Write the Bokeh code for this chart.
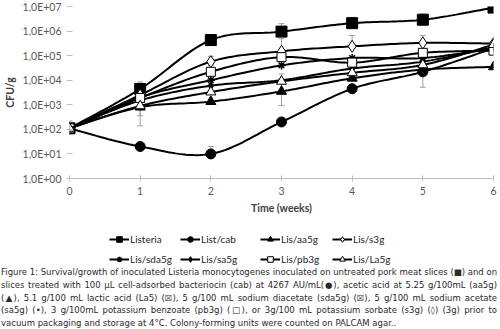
import numpy as np
from bokeh.plotting import figure
from bokeh.models import (FixedTicker, Legend, LegendItem, Whisker, ColumnDataSource, Div)
from bokeh.layouts import column
from bokeh.embed import file_html
from bokeh.resources import INLINE

# ---------------- data ----------------
weeks = [0, 1, 2, 3, 4, 5, 6]
listeria = [110, 4400, 430000, 950000, 2100000, 2900000, 9000000]
list_cab = [110, 20, 10, 200, 4500, 22000, 200000]
lis_aa5g = [110, 800, 1350, 3500, 12000, 27000, 35000]
lis_s3g = [110, 2500, 57000, 150000, 240000, 330000, 310000]
lis_sda5g = [110, 2000, 10000, 40000, 80000, 80000, 200000]
lis_sa5g = [110, 1500, 6000, 10000, 30000, 57000, 220000]
lis_pb3g = [110, 1900, 22000, 87000, 52000, 130000, 160000]
lis_la5g = [110, 900, 3300, 9000, 20000, 42000, 280000]

series_names = ["Listeria", "List/cab", "Lis/aa5g", "Lis/s3g",
                "Lis/sda5g", "Lis/sa5g", "Lis/pb3g", "Lis/La5g"]

# error bars (x, lower, upper)
err_x = [0, 1, 1, 1, 2, 2, 3, 3, 3, 4, 4, 5, 5, 5]
err_lower = [90, 4000, 140, 360, 7, 40000, 800000, 930, 120000, 2000000, 200000, 5200, 2800000, 300000]
err_upper = [220, 8500, 900, 900, 20, 94000, 2000000, 18000, 490000, 3600000, 660000, 22000, 5000000, 660000]

y_ticks = [1, 10, 100, 1000, 10000, 100000, 1000000, 10000000]
y_tick_labels = ["1,0E+00", "1,0E+01", "1,0E+02", "1,0E+03", "1,0E+04", "1,0E+05", "1,0E+06", "1,0E+07"]
x_ticks = [0, 1, 2, 3, 4, 5, 6]

caption_lines = [
    "Figure 1: Survival/growth of inoculated Listeria monocytogenes inoculated on untreated pork meat slices (\u25a0) and on",
    "slices treated with 100 \u00b5L cell-adsorbed bacteriocin (cab) at 4267 AU/mL(\u25cf), acetic acid at 5.25 g/100mL (aa5g)",
    "(\u25b2), 5.1 g/100 mL lactic acid (La5) (\u2612), 5 g/100 mL sodium diacetate (sda5g) (\u2612), 5 g/100 mL sodium acetate",
    "(sa5g) (\u2022), 3 g/100mL potassium benzoate (pb3g) (\u25a1), or 3g/100 mL potassium sorbate (s3g) (\u25ca) (3g) prior to",
    "vacuum packaging and storage at 4\u00b0C. Colony-forming units were counted on PALCAM agar..",
]


def smooth(xs, ys, n=20):
    """Catmull-Rom smoothing in log space (Excel-like smoothed line)."""
    x = np.array(xs, float)
    y = np.log10(np.array(ys, float))
    px, py = [], []
    m = len(x)
    for i in range(m - 1):
        x0, y0 = (x[i - 1], y[i - 1]) if i > 0 else (x[i], y[i])
        x1, y1 = x[i], y[i]
        x2, y2 = x[i + 1], y[i + 1]
        x3, y3 = (x[i + 2], y[i + 2]) if i + 2 < m else (x[i + 1], y[i + 1])
        c1x, c1y = x1 + (x2 - x0) / 6, y1 + (y2 - y0) / 6
        c2x, c2y = x2 - (x3 - x1) / 6, y2 - (y3 - y1) / 6
        t = np.linspace(0, 1, n, endpoint=(i == m - 2))
        bx = (1 - t) ** 3 * x1 + 3 * (1 - t) ** 2 * t * c1x + 3 * (1 - t) * t ** 2 * c2x + t ** 3 * x2
        by = (1 - t) ** 3 * y1 + 3 * (1 - t) ** 2 * t * c1y + 3 * (1 - t) * t ** 2 * c2y + t ** 3 * y2
        px.extend(bx)
        py.extend(by)
    return px, list(10 ** np.array(py))


AX = "#bfbfbf"
TXT = "#595959"
FONT = "Lato"

p = figure(width=500, height=216, x_range=(0, 6), y_range=(1, 1e7), y_axis_type="log",
           output_backend="svg", toolbar_location=None,
           min_border_left=62, min_border_right=7, min_border_top=6, min_border_bottom=0)
p.outline_line_color = None
p.xgrid.visible = False
p.ygrid.visible = False

p.yaxis.ticker = FixedTicker(ticks=y_ticks, minor_ticks=[])
p.yaxis.major_label_overrides = {t: l for t, l in zip(y_ticks, y_tick_labels)}
p.xaxis.ticker = FixedTicker(ticks=x_ticks, minor_ticks=[])
for ax in (p.xaxis[0], p.yaxis[0]):
    ax.axis_line_color = AX
    ax.major_tick_line_color = AX
    ax.major_tick_in = 3
    ax.major_tick_out = 3
    ax.minor_tick_line_color = None
    ax.major_label_text_color = TXT
    ax.major_label_text_font = FONT
    ax.major_label_text_font_size = "10.5px"
    ax.axis_label_text_font = FONT
    ax.axis_label_text_font_style = "bold"
    ax.axis_label_text_font_size = "10.5px"
    ax.axis_label_text_color = "#404040"
p.yaxis.axis_line_color = None
p.xaxis.axis_label = "Time (weeks)"
p.yaxis.axis_label = "CFU/g"
p.xaxis.major_label_standoff = 5
p.xaxis.axis_label_standoff = 4
p.yaxis.major_label_standoff = 5
p.yaxis.axis_label_standoff = 4

# error bars
esrc = ColumnDataSource(dict(x=err_x, lo=err_lower, hi=err_upper))
wk = Whisker(base="x", lower="lo", upper="hi", source=esrc, line_color="#a0a0a0", line_width=1)
wk.upper_head.size = 6
wk.lower_head.size = 6
wk.upper_head.line_color = "#a0a0a0"
wk.lower_head.line_color = "#a0a0a0"
p.add_layout(wk)

styles = [
    (listeria, "square", 11, "black"),
    (list_cab, "circle", 10, "black"),
    (lis_aa5g, "triangle", 10, "black"),
    (lis_s3g, "diamond", 12, "white"),
    (lis_sda5g, "asterisk", 8, "black"),
    (lis_sa5g, "diamond", 8, "black"),
    (lis_pb3g, "square", 9, "white"),
    (lis_la5g, "triangle", 10, "white"),
]

# legend-only figure below the chart (its data lies outside its visible range)
lf = figure(width=500, height=50, x_range=(-20, -10), y_range=(-20, -10),
            output_backend="svg", toolbar_location=None,
            min_border_left=0, min_border_right=0, min_border_top=0, min_border_bottom=0)
lf.axis.visible = False
lf.grid.visible = False
lf.outline_line_color = None

items = []
for name, (vals, marker, size, fill) in zip(series_names, styles):
    sx, sy = smooth(weeks, vals)
    p.line(sx, sy, line_color="black", line_width=2)
    p.scatter(weeks, vals, marker=marker, size=size, fill_color=fill,
              line_color="black", line_width=1.5 if marker == "asterisk" else 1)
    lr = lf.line(weeks, vals, line_color="black", line_width=2)
    mr = lf.scatter(weeks, vals, marker=marker, size=size * 0.75, fill_color=fill,
                    line_color="black", line_width=1.5 if marker == "asterisk" else 1)
    items.append(LegendItem(label=name, renderers=[lr, mr]))

col_x = [40, 111, 191, 263]
for c in range(4):
    lg = Legend(items=[items[c], items[c + 4]],
                label_text_font=FONT, label_text_font_size="10px", label_text_color="#262626",
                glyph_width=20, glyph_height=14, label_height=14, label_standoff=1,
                spacing=6, padding=0, margin=0, border_line_color=None,
                background_fill_alpha=0, location=(col_x[c], 0))
    lf.add_layout(lg, "center")

inner = "".join(
    f'<div style="text-align:justify;text-align-last:{"justify" if i < len(caption_lines) - 1 else "left"};white-space:nowrap;">{ln}</div>'
    for i, ln in enumerate(caption_lines))
cap = Div(text=f'<div style="width:496px;font-family:\'DejaVu Sans\';font-size:8.5px;line-height:12.8px;color:#2a2a2a;">{inner}</div>',
          width=498, height=63, margin=(0, 0, 0, 1))

layout = column(p, lf, cap, spacing=0)
open("out.html", "w").write(file_html(layout, INLINE))
